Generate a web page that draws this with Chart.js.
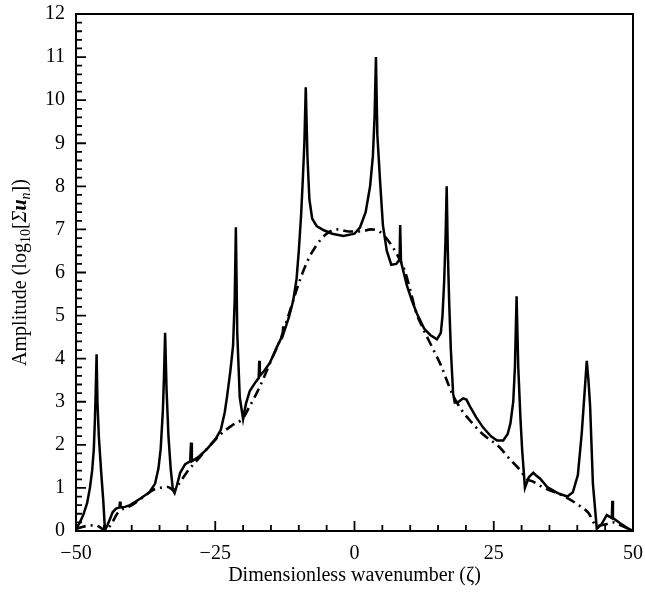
<!DOCTYPE html>
<html>
<head>
<meta charset="utf-8">
<script src="https://cdn.jsdelivr.net/npm/chart.js@4.4.1/dist/chart.umd.min.js"></script>
<style>
    html, body { margin: 0; padding: 0; background: #fff; }
    canvas { display: block; }
</style>
</head>
<body>
<canvas id="spectrum" width="645" height="601"></canvas>
<script>
// Solid curve: amplitude of the full spectrum (sharp resonance peaks)
const solidX = [
    -50.0, -49.3, -48.7, -48.0, -47.5, -47.1, -46.8, -46.6, -46.45, -46.3,
    -46.15, -45.9, -45.5, -45.1, -44.8, -44.3, -43.9, -43.4, -42.8, -42.2,
    -42.1, -42.0, -41.2, -40.3, -38.5, -36.8, -35.8, -35.2, -34.8, -34.4,
    -34.2, -34.0, -33.75, -33.4, -33.0, -32.6, -32.3, -31.9, -31.3, -30.4,
    -29.5, -29.35, -29.2, -28.0, -26.5, -25.0, -24.0, -23.3, -22.9, -22.3,
    -21.8, -21.5, -21.3, -21.05, -20.6, -20.0, -19.5, -18.8, -17.8, -17.2,
    -17.1, -17.0, -16.2, -15.2, -14.0, -12.9, -12.8, -12.7, -11.8, -11.0,
    -10.4, -10.0, -9.6, -9.3, -9.0, -8.75, -8.45, -8.1, -7.6, -6.8,
    -5.5, -4.0, -2.0, 0.0, 1.0, 2.0, 2.8, 3.3, 3.6, 3.85,
    4.1, 4.6, 5.1, 5.8, 6.6, 7.5, 8.1, 8.2, 8.35, 9.4,
    10.3, 11.2, 12.5, 13.6, 14.8, 15.5, 15.8, 16.1, 16.35, 16.55,
    16.75, 17.0, 17.3, 17.7, 18.0, 18.7, 19.5, 20.1, 20.7, 21.8,
    23.1, 24.5, 25.6, 26.7, 27.5, 28.0, 28.5, 28.8, 29.1, 29.4,
    29.8, 30.1, 30.6, 31.3, 32.1, 32.5, 33.3, 34.6, 36.5, 38.2,
    39.2, 40.1, 40.8, 41.3, 41.7, 42.0, 42.3, 42.8, 43.5, 44.3,
    45.3, 46.2, 46.3, 46.4, 47.7, 49.0, 50.0
];
const solidY = [
    0.05, 0.2, 0.37, 0.65, 1.0, 1.4, 1.9, 2.6, 3.3, 4.1,
    3.0, 2.2, 1.4, 0.7, 0.02, 0.15, 0.28, 0.44, 0.52, 0.55,
    0.68, 0.55, 0.56, 0.6, 0.75, 0.9, 1.1, 1.45, 1.9, 2.8,
    3.6, 4.6, 3.3, 2.2, 1.45, 0.95, 0.88, 1.05, 1.35, 1.55,
    1.62, 2.05, 1.62, 1.72, 1.9, 2.12, 2.35, 2.75, 3.1, 3.7,
    4.3, 5.4, 7.05, 4.6, 3.1, 2.6, 2.95, 3.25, 3.45, 3.55,
    3.95, 3.6, 3.72, 3.9, 4.25, 4.55, 4.75, 4.6, 4.95, 5.35,
    5.85, 6.5, 7.3, 8.1, 9.0, 10.3, 8.7, 7.7, 7.25, 7.08,
    6.98, 6.9, 6.85, 6.9, 7.05, 7.4, 8.0, 8.7, 9.6, 11.0,
    9.2, 8.1, 7.1, 6.5, 6.18, 6.2, 6.3, 7.1, 6.25, 5.7,
    5.35, 5.05, 4.7, 4.55, 4.45, 4.6, 5.0, 5.8, 6.8, 8.0,
    6.5, 5.3, 4.2, 3.2, 2.98, 3.0, 3.08, 3.05, 2.9, 2.65,
    2.4, 2.2, 2.1, 2.1, 2.25, 2.5, 3.0, 3.8, 5.45, 3.8,
    2.6, 1.88, 1.0, 1.25, 1.35, 1.3, 1.22, 1.02, 0.88, 0.8,
    0.9, 1.3, 2.27, 3.2, 3.95, 3.5, 2.9, 1.1, 0.05, 0.15,
    0.37, 0.3, 0.7, 0.3, 0.18, 0.07, 0.0
];

// Dash-dot curve: smooth envelope
const envX = [
    -50, -48, -46.5, -45.5, -44.8, -43.5, -42.5, -40, -38, -36.2,
    -35, -33.5, -32.5, -31.5, -30, -28, -26, -24, -22, -20,
    -19, -17, -15, -13, -11.5, -10, -8.5, -7, -5, -3,
    -1, 1, 3, 4.5, 6, 7.5, 9, 10, 11, 12.3,
    14, 15.5, 17.5, 19, 20.5, 23, 26, 28, 29.5, 31,
    32, 34, 36, 38, 40, 42, 43.5, 45, 46.5, 48,
    50
];
const envY = [
    0.05, 0.12, 0.13, 0.07, 0.0, 0.2, 0.42, 0.6, 0.78, 0.95,
    1.0, 1.02, 0.95, 1.1, 1.38, 1.68, 1.98, 2.25, 2.45, 2.62,
    2.85, 3.35, 3.95, 4.55, 5.15, 5.75, 6.25, 6.6, 6.9, 7.0,
    6.95, 6.95, 7.0, 6.95, 6.75, 6.45, 6.05, 5.6, 5.1, 4.7,
    4.25, 3.85, 3.2, 2.85, 2.6, 2.25, 1.95, 1.65, 1.45, 1.2,
    1.15, 1.0, 0.9, 0.78, 0.62, 0.42, 0.12, 0.15, 0.2, 0.12,
    0.0
];

const xTicks = [-50, -25, 0, 25, 50];
const yTicks = [0, 1, 2, 3, 4, 5, 6, 7, 8, 9, 10, 11, 12];

const serif = "'Liberation Serif', 'DejaVu Serif', serif";

function toPoints(xs, ys) {
    return xs.map((x, i) => ({ x: x, y: ys[i] }));
}

// Frame and inward tick marks (major + minor), placed through the scales
const frameTicks = {
    id: "frameTicks",
    afterDatasetsDraw(chart) {
        const { ctx, chartArea: a, scales } = chart;
        ctx.save();
        ctx.strokeStyle = "#000";
        ctx.lineWidth = 2;
        ctx.strokeRect(a.left, a.top, a.right - a.left, a.bottom - a.top);
        ctx.lineWidth = 1.8;
        ctx.beginPath();
        for (let v = -50; v <= 50; v += 5) {
            const px = scales.x.getPixelForValue(v);
            const len = v % 25 === 0 ? 10 : 6;
            ctx.moveTo(px, a.bottom);
            ctx.lineTo(px, a.bottom - len);
        }
        for (let i = 0; i <= 60; i++) {
            const py = scales.y.getPixelForValue(i / 5);
            const len = i % 5 === 0 ? 10 : 6;
            ctx.moveTo(a.left, py);
            ctx.lineTo(a.left + len, py);
        }
        ctx.stroke();
        ctx.restore();
    }
};

// Y axis title with subscripts and italic symbols
const yTitle = {
    id: "yTitle",
    afterDraw(chart) {
        const { ctx, chartArea: a } = chart;
        const parts = [
            ["Amplitude (log", "20px " + serif, 0],
            ["10", "14px " + serif, 5],
            ["[", "20px " + serif, 0],
            ["Σ", "italic 20px " + serif, 0],
            ["u", "italic bold 20px " + serif, 0],
            ["n", "italic 14px " + serif, 5],
            ["])", "20px " + serif, 0]
        ];
        ctx.save();
        let total = 0;
        parts.forEach(p => { ctx.font = p[1]; total += ctx.measureText(p[0]).width; });
        ctx.translate(21, (a.top + a.bottom) / 2);
        ctx.rotate(-Math.PI / 2);
        ctx.fillStyle = "#000";
        ctx.textBaseline = "middle";
        let x = -total / 2;
        parts.forEach(p => {
            ctx.font = p[1];
            ctx.fillText(p[0], x, p[2]);
            x += ctx.measureText(p[0]).width;
        });
        ctx.restore();
    }
};

const ctx = document.getElementById("spectrum").getContext("2d");

new Chart(ctx, {
    type: "line",
    data: {
        datasets: [
            {
                label: "solid",
                data: toPoints(solidX, solidY),
                borderColor: "#000",
                borderWidth: 2.5,
                tension: 0,
                pointRadius: 0,
                fill: false
            },
            {
                label: "envelope",
                data: toPoints(envX, envY),
                borderColor: "#000",
                borderWidth: 2.6,
                borderDash: [10, 5, 2, 5],
                cubicInterpolationMode: "monotone",
                pointRadius: 0,
                fill: false
            }
        ]
    },
    options: {
        responsive: false,
        animation: false,
        layout: { padding: { top: 14, right: 12, left: 0, bottom: 0 } },
        plugins: {
            legend: { display: false },
            tooltip: { enabled: false }
        },
        scales: {
            x: {
                type: "linear",
                min: -50,
                max: 50,
                afterBuildTicks: (s) => { s.ticks = xTicks.map(v => ({ value: v })); },
                afterFit: (s) => {
                    s.height = 70;
                    s.paddingLeft = 0;
                    s.paddingRight = 0;
                },
                grid: { display: false, drawTicks: false },
                border: { display: false },
                ticks: {
                    color: "#000",
                    padding: 11,
                    maxRotation: 0,
                    font: { family: serif, size: 20 },
                    callback: (v) => v < 0 ? "\u2212" + Math.abs(v) : String(v)
                },
                title: {
                    display: true,
                    text: "Dimensionless wavenumber (ζ)",
                    color: "#000",
                    font: { family: serif, size: 20 },
                    padding: { top: 0, bottom: 13 }
                }
            },
            y: {
                type: "linear",
                min: 0,
                max: 12,
                afterBuildTicks: (s) => { s.ticks = yTicks.map(v => ({ value: v })); },
                afterFit: (s) => {
                    s.width = 76;
                    s.paddingTop = 0;
                    s.paddingBottom = 0;
                },
                grid: { display: false, drawTicks: false },
                border: { display: false },
                ticks: {
                    color: "#000",
                    padding: 11,
                    font: { family: serif, size: 20 }
                }
            }
        }
    },
    plugins: [frameTicks, yTitle]
});
</script>
</body>
</html>
